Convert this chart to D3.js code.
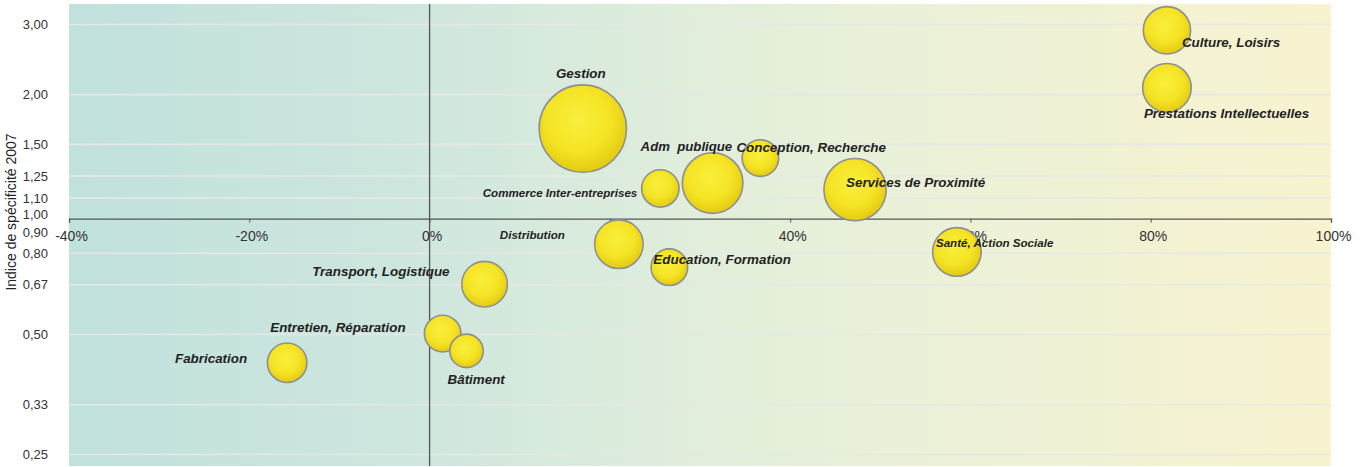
<!DOCTYPE html>
<html><head><meta charset="utf-8">
<script src="https://cdn.jsdelivr.net/npm/d3@7/dist/d3.min.js"></script>
<style>body{margin:0;background:#fff;} svg{display:block;} .lbl{white-space:pre;}</style>
</head><body>
<svg id="chart" width="1367" height="467"></svg>
<script>
// ---- data ----
const sectors = ["Culture, Loisirs","Prestations Intellectuelles","Gestion","Commerce Inter-entreprises","Adm  publique","Conception, Recherche","Services de Proximité","Santé, Action Sociale","Distribution","Education, Formation","Transport, Logistique","Entretien, Réparation","Bâtiment","Fabrication"];
const growth = [81.8, 81.8, 17.0, 25.6, 31.4, 36.7, 47.2, 58.5, 21.0, 26.6, 6.1, 1.45, 4.1, -15.8];        // x (%)
const specificity = [2.90, 2.08, 1.644, 1.163, 1.20, 1.386, 1.155, 0.806, 0.843, 0.738, 0.669, 0.503, 0.455, 0.425]; // y
const weight = [5.6, 5.9, 19.1, 3.5, 9.2, 3.35, 9.7, 5.9, 5.9, 3.35, 5.2, 3.35, 2.8, 3.9];              // bubble size
const xTicks = [-40, -20, 0, 20, 40, 60, 80, 100];
const yTicks = [0.25, 1/3, 0.5, 2/3, 0.8, 0.9, 1, 1.1, 1.25, 1.5, 2, 3];
const yTickLabels = ["0,25","0,33","0,50","0,67","0,80","0,90","1,00","1,10","1,25","1,50","2,00","3,00"];
const yGrid = [0.25, 1/3, 0.5, 2/3, 0.8, 1.1, 1.25, 1.5, 2, 3];
const yTitle = "Indice de spécificité 2007";

// ---- layout (label placement, px offsets from bubble centre) ----
const labelLayout = {
  "Culture, Loisirs": ["start", 15, 17, 13.4],
  "Prestations Intellectuelles": ["start", -23, 30, 13.4],
  "Gestion": ["middle", -2, -51, 13.4],
  "Commerce Inter-entreprises": ["end", -23, 9, 11.6],
  "Adm  publique": ["start", -72, -32, 13.2],
  "Conception, Recherche": ["start", -24, -6, 13.4],
  "Services de Proximité": ["start", -9, -3, 13.4],
  "Santé, Action Sociale": ["start", -21, -5, 11.6],
  "Distribution": ["end", -54, -5, 11.6],
  "Education, Formation": ["start", -16, -3, 13.4],
  "Transport, Logistique": ["end", -35, -8, 13.4],
  "Entretien, Réparation": ["end", -37, -2, 13.4],
  "Bâtiment": ["start", -19, 33, 13.4],
  "Fabrication": ["end", -40, 0, 13.4]
};

const svg = d3.select("#chart");
const L = 69, R = 1331, T = 4, B = 466;
const x = d3.scaleLinear().domain([-40, 100]).range([L, R]);
const y = d3.scaleLog().domain([0.234, 3.376]).range([B, T]);
const r = d3.scaleSqrt().domain([0, d3.max(weight)]).range([0, 43.7]);
const axisCross = 0.977;

const defs = svg.append("defs");
const bg = defs.append("linearGradient").attr("id","bg").attr("x1","0").attr("x2","1").attr("y1","0").attr("y2","0");
[[0,"#c1e1dd"],[0.26,"#cde6de"],[0.5,"#e1eedb"],[0.7,"#ecf1d7"],[1,"#f8f3cf"]].forEach(s=>bg.append("stop").attr("offset",s[0]).attr("stop-color",s[1]));
const bub = defs.append("radialGradient").attr("id","bub").attr("cx","0.45").attr("cy","0.4").attr("r","0.6");
[[0,"#f9ef3c"],[0.6,"#f5e425"],[1,"#e3cb12"]].forEach(s=>bub.append("stop").attr("offset",s[0]).attr("stop-color",s[1]));

svg.append("rect").attr("x",L).attr("y",T).attr("width",R-L).attr("height",B-T).attr("fill","url(#bg)");

// grid
svg.append("g").selectAll("line").data(yGrid).join("line")
  .attr("x1",L).attr("x2",R).attr("y1",d=>y(d)).attr("y2",d=>y(d))
  .attr("stroke","#e6e8e6").attr("stroke-width",1.6);

// y tick labels
svg.append("g").selectAll("text").data(yTicks).join("text")
  .attr("x",48).attr("y",d=>y(d)).attr("dy","0.35em").attr("text-anchor","end")
  .attr("font-family","'Liberation Sans Narrow','Arial Narrow',sans-serif").attr("font-size",13).attr("fill","#333")
  .text((d,i)=>yTickLabels[i]);

svg.append("text").attr("transform","translate(16,212) rotate(-90)").attr("text-anchor","middle")
  .attr("font-family","'Liberation Sans Narrow','Arial Narrow',sans-serif").attr("font-size",14).attr("fill","#222")
  .text(yTitle);

// vertical axis at x=0
svg.append("line").attr("x1",x(0)).attr("x2",x(0)).attr("y1",T).attr("y2",B).attr("stroke","#555").attr("stroke-width",1.3);

// x axis
const xa = svg.append("g").attr("transform",`translate(0,${y(axisCross)})`)
  .call(d3.axisBottom(x).tickValues(xTicks).tickSizeInner(4).tickSizeOuter(4).tickPadding(8.5).tickFormat(d=>d+"%"));
xa.select(".domain").attr("stroke","#555").attr("stroke-width",1.3);
xa.selectAll(".tick line").attr("stroke","#555");
xa.selectAll(".tick text").attr("font-family","'Liberation Sans',Arial,sans-serif").attr("font-size",14).attr("fill","#333").attr("dx",2);

// bubbles
const data = sectors.map((s,i)=>({s, gx:growth[i], sp:specificity[i], w:weight[i]}));
const g = svg.append("g");
g.selectAll("circle").data(data).join("circle")
  .attr("cx",d=>x(d.gx)).attr("cy",d=>y(d.sp)).attr("r",d=>r(d.w))
  .attr("fill","url(#bub)").attr("stroke","#8f8f8f").attr("stroke-width",1.6);

g.selectAll("text").data(data).join("text").attr("class","lbl")
  .attr("x",d=>x(d.gx)+labelLayout[d.s][1]).attr("y",d=>y(d.sp)+labelLayout[d.s][2])
  .attr("text-anchor",d=>labelLayout[d.s][0])
  .attr("font-family","'Liberation Sans',Arial,sans-serif").attr("font-weight","bold").attr("font-style","italic")
  .attr("font-size",d=>labelLayout[d.s][3]).attr("fill","#222")
  .text(d=>d.s);
</script>
</body></html>
